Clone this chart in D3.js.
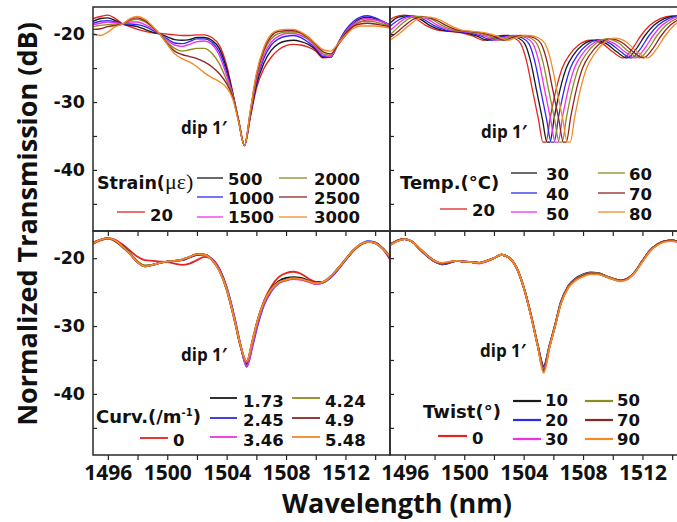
<!DOCTYPE html>
<html>
<head>
<meta charset="utf-8">
<script src="https://cdn.jsdelivr.net/npm/d3@7"></script>
<style>
  body { margin: 0; background: #fff; }
  svg { display: block; }
</style>
</head>
<body>
<svg id="chart" width="677" height="522"></svg>
<script>
// ---- data (wavelength in nm, transmission in dB) ----

// strain panel, one wavelength grid shared by its seven traces
const strainWl = [1495, 1495.5, 1496, 1496.5, 1497, 1497.5, 1498, 1498.5, 1499, 1499.5, 1500, 1500.5, 1501, 1501.5,
  1502, 1502.5, 1503, 1503.5, 1504, 1504.4, 1504.8, 1505.2, 1505.6, 1506, 1506.5, 1507, 1507.5, 1508, 1508.5,
  1509, 1509.5, 1510, 1510.5, 1511, 1511.5, 1512, 1512.5, 1513, 1513.5, 1514, 1514.5, 1515];
const strain20 = [-17.7, -17.4, -17.2, -17.7, -18.5, -18.9, -19.3, -19.6, -19.8, -19.9, -20.0, -20.1, -20.2, -20.2,
  -20.1, -20.1, -20.5, -21.6, -24.6, -28.5, -32.7, -36.4, -32.2, -28.0, -25.1, -23.4, -22.3, -21.7, -21.5,
  -21.6, -21.9, -22.5, -23.5, -23.3, -21.6, -20.2, -18.9, -18.2, -17.9, -17.9, -18.2, -18.7];
const strain500 = [-18.1, -17.7, -17.6, -18.0, -18.5, -18.7, -18.9, -19.3, -19.7, -20.0, -20.4, -20.8, -20.9, -20.8,
  -20.5, -20.5, -20.9, -22.1, -25.1, -28.7, -32.7, -36.4, -32.0, -27.5, -24.3, -22.4, -21.4, -21.0, -20.9,
  -21.1, -21.5, -22.3, -23.4, -23.4, -21.4, -19.7, -18.5, -17.7, -17.5, -17.7, -18.2, -18.7];
const strain1000 = [-18.4, -18.1, -18.0, -18.2, -18.5, -18.5, -18.6, -18.9, -19.4, -20.0, -20.7, -21.3, -21.4, -21.1,
  -20.7, -20.7, -21.2, -22.6, -25.6, -28.8, -32.7, -36.4, -31.7, -27.0, -23.6, -21.6, -20.7, -20.3, -20.2,
  -20.5, -21.2, -22.1, -23.3, -23.4, -21.3, -19.4, -18.2, -17.5, -17.3, -17.6, -18.1, -18.6];
const strain1500 = [-18.6, -18.4, -18.2, -18.3, -18.5, -18.2, -18.2, -18.6, -19.2, -20.0, -20.9, -21.6, -21.8, -21.5,
  -21.1, -21.0, -21.5, -23.1, -26.1, -28.9, -32.7, -36.4, -31.6, -26.7, -23.1, -21.2, -20.3, -19.9, -19.9,
  -20.2, -20.8, -21.9, -23.1, -23.3, -21.4, -19.7, -18.6, -17.9, -17.7, -17.9, -18.2, -18.7];
const strain2000 = [-18.9, -18.7, -18.6, -18.5, -18.5, -18.0, -17.8, -18.2, -19.0, -20.0, -21.2, -22.1, -22.5, -22.3,
  -22.1, -22.1, -22.8, -24.3, -26.8, -29.0, -32.7, -36.4, -31.5, -26.3, -22.6, -20.7, -19.9, -19.7, -19.7,
  -19.9, -20.7, -21.6, -22.9, -23.1, -21.5, -19.8, -18.8, -18.2, -18.1, -18.2, -18.5, -18.8];
const strain2500 = [-19.3, -19.2, -18.9, -18.7, -18.5, -17.8, -17.6, -18.0, -18.9, -20.0, -21.4, -22.5, -23.0, -23.3,
  -23.6, -24.1, -24.8, -25.8, -27.3, -29.2, -32.7, -36.4, -31.3, -26.1, -22.3, -20.3, -19.6, -19.5, -19.5,
  -19.8, -20.5, -21.5, -22.6, -22.9, -21.5, -19.9, -18.9, -18.5, -18.4, -18.5, -18.7, -18.9];
const strain3000 = [-19.9, -20.2, -19.7, -18.9, -18.5, -17.7, -17.4, -17.8, -18.8, -20.0, -21.5, -22.9, -23.6, -24.1,
  -24.8, -25.7, -26.4, -27.0, -27.9, -29.5, -32.9, -36.4, -31.2, -25.8, -22.0, -20.0, -19.4, -19.3, -19.3,
  -19.7, -20.4, -21.4, -22.3, -22.5, -21.4, -20.2, -19.2, -18.8, -18.8, -18.8, -18.9, -19.1];
const strainLabels = ['20', '500', '1000', '1500', '2000', '2500', '3000'];

// temperature panel, each trace read on its own wavelength points (the spectrum walks to the red)
const temp20Wl = [1493.3, 1494.0, 1494.7, 1495.3, 1496.0, 1496.7, 1497.4, 1498.2, 1499.0, 1499.8, 1500.6, 1501.3,
  1502.0, 1502.7, 1503.3, 1503.8, 1504.2, 1504.6, 1505.0, 1505.3, 1505.5, 1505.8, 1506.2, 1506.6, 1507.1, 1507.7,
  1508.5, 1509.3, 1510.0, 1510.7, 1511.3, 1511.9, 1512.5, 1513.2, 1514.0, 1514.8];
const temp30Wl = [1493.57, 1494.27, 1494.97, 1495.57, 1496.27, 1496.97, 1497.67, 1498.47, 1499.27, 1500.07, 1500.87,
  1501.57, 1502.27, 1502.97, 1503.57, 1504.07, 1504.47, 1504.87, 1505.27, 1505.57, 1505.77, 1506.07, 1506.47,
  1506.87, 1507.37, 1507.97, 1508.77, 1509.57, 1510.27, 1510.97, 1511.57, 1512.17, 1512.77, 1513.47, 1514.27, 1515.07];
const temp40Wl = [1493.85, 1494.55, 1495.25, 1495.85, 1496.55, 1497.25, 1497.95, 1498.75, 1499.55, 1500.35, 1501.15,
  1501.85, 1502.55, 1503.25, 1503.85, 1504.35, 1504.75, 1505.15, 1505.55, 1505.85, 1506.05, 1506.35, 1506.75,
  1507.15, 1507.65, 1508.25, 1509.05, 1509.85, 1510.55, 1511.25, 1511.85, 1512.45, 1513.05, 1513.75, 1514.55, 1515.35];
const temp50Wl = [1494.12, 1494.82, 1495.52, 1496.12, 1496.82, 1497.52, 1498.22, 1499.02, 1499.82, 1500.62, 1501.42,
  1502.12, 1502.82, 1503.52, 1504.12, 1504.62, 1505.02, 1505.42, 1505.82, 1506.12, 1506.32, 1506.62, 1507.02,
  1507.42, 1507.92, 1508.52, 1509.32, 1510.12, 1510.82, 1511.52, 1512.12, 1512.72, 1513.32, 1514.02, 1514.82, 1515.62];
const temp60Wl = [1494.39, 1495.09, 1495.79, 1496.39, 1497.09, 1497.79, 1498.49, 1499.29, 1500.09, 1500.89, 1501.69,
  1502.39, 1503.09, 1503.79, 1504.39, 1504.89, 1505.29, 1505.69, 1506.09, 1506.39, 1506.59, 1506.89, 1507.29,
  1507.69, 1508.19, 1508.79, 1509.59, 1510.39, 1511.09, 1511.79, 1512.39, 1512.99, 1513.59, 1514.29, 1515.09, 1515.89];
const temp70Wl = [1494.67, 1495.37, 1496.07, 1496.67, 1497.37, 1498.07, 1498.77, 1499.57, 1500.37, 1501.17, 1501.97,
  1502.67, 1503.37, 1504.07, 1504.67, 1505.17, 1505.57, 1505.97, 1506.37, 1506.67, 1506.87, 1507.17, 1507.57,
  1507.97, 1508.47, 1509.07, 1509.87, 1510.67, 1511.37, 1512.07, 1512.67, 1513.27, 1513.87, 1514.57, 1515.37, 1516.17];
const temp80Wl = [1494.94, 1495.64, 1496.34, 1496.94, 1497.64, 1498.34, 1499.04, 1499.84, 1500.64, 1501.44, 1502.24,
  1502.94, 1503.64, 1504.34, 1504.94, 1505.44, 1505.84, 1506.24, 1506.64, 1506.94, 1507.14, 1507.44, 1507.84,
  1508.24, 1508.74, 1509.34, 1510.14, 1510.94, 1511.64, 1512.34, 1512.94, 1513.54, 1514.14, 1514.84, 1515.64, 1516.44];
const temp20Db = [-21.0, -19.8, -18.4, -17.5, -17.2, -17.7, -18.7, -19.4, -19.6, -19.8, -20.3, -20.9, -20.4, -20.2,
  -20.5, -21.4, -24.0, -28.3, -32.6, -35.9, -35.9, -32.2, -28.0, -25.0, -23.0, -21.6, -20.9, -21.4, -22.6, -23.5,
  -22.2, -20.2, -18.7, -17.7, -17.3, -17.6];
const temp30Db = [-21.0, -19.8, -18.4, -17.5, -17.3, -17.7, -18.7, -19.4, -19.6, -19.8, -20.3, -20.9, -20.4, -20.2,
  -20.5, -21.4, -24.0, -28.3, -32.6, -35.9, -35.9, -32.2, -28.0, -25.0, -23.0, -21.6, -20.9, -21.4, -22.6, -23.5,
  -22.2, -20.2, -18.7, -17.7, -17.3, -17.6];
const temp40Db = [-21.0, -19.8, -18.4, -17.6, -17.3, -17.8, -18.7, -19.4, -19.6, -19.8, -20.3, -20.9, -20.4, -20.2,
  -20.5, -21.4, -24.0, -28.3, -32.6, -35.9, -35.9, -32.2, -28.0, -25.0, -23.0, -21.6, -20.8, -21.4, -22.6, -23.5,
  -22.2, -20.2, -18.7, -17.7, -17.3, -17.6];
const temp50Db = [-21.0, -19.8, -18.5, -17.6, -17.4, -17.8, -18.7, -19.4, -19.6, -19.8, -20.3, -20.9, -20.4, -20.2,
  -20.5, -21.4, -24.0, -28.3, -32.6, -35.9, -35.9, -32.2, -28.0, -25.0, -23.0, -21.6, -20.8, -21.4, -22.6, -23.5,
  -22.2, -20.2, -18.7, -17.7, -17.3, -17.6];
const temp60Db = [-21.0, -19.9, -18.5, -17.6, -17.4, -17.8, -18.7, -19.4, -19.6, -19.8, -20.3, -20.9, -20.4, -20.2,
  -20.5, -21.4, -24.0, -28.3, -32.6, -35.9, -35.9, -32.2, -28.0, -25.0, -23.0, -21.5, -20.7, -21.3, -22.6, -23.5,
  -22.2, -20.2, -18.7, -17.7, -17.3, -17.6];
const temp70Db = [-21.0, -19.9, -18.6, -17.7, -17.5, -17.9, -18.7, -19.4, -19.6, -19.8, -20.3, -20.9, -20.4, -20.2,
  -20.5, -21.4, -24.0, -28.3, -32.6, -35.9, -35.9, -32.2, -28.0, -25.0, -23.0, -21.5, -20.7, -21.3, -22.6, -23.5,
  -22.2, -20.2, -18.7, -17.7, -17.3, -17.6];
const temp80Db = [-21.0, -19.9, -18.6, -17.7, -17.5, -17.9, -18.7, -19.4, -19.6, -19.8, -20.3, -20.9, -20.4, -20.2,
  -20.5, -21.4, -24.0, -28.3, -32.6, -35.9, -35.9, -32.2, -28.0, -25.0, -23.0, -21.4, -20.6, -21.2, -22.6, -23.5,
  -22.2, -20.2, -18.7, -17.7, -17.3, -17.6];
const tempLabels = ['20', '30', '40', '50', '60', '70', '80'];

// curvature and twist panels share one wavelength grid
const lowerWl = [1495, 1495.5, 1496, 1496.5, 1497, 1497.5, 1498, 1498.5, 1499, 1499.5, 1500, 1500.5, 1501, 1501.5,
  1502, 1502.5, 1503, 1503.5, 1504, 1504.5, 1504.95, 1505.35, 1505.75, 1506.1, 1506.5, 1507, 1507.5, 1508, 1508.5,
  1509, 1509.5, 1510, 1510.5, 1511, 1511.5, 1512, 1512.5, 1513, 1513.5, 1514, 1514.5, 1515];
const curv0 = [-17.9, -17.4, -17.1, -17.3, -18.0, -18.9, -19.8, -20.3, -20.4, -20.5, -20.6, -20.8, -21.0, -20.8,
  -20.3, -19.8, -20.1, -21.5, -24.3, -28.6, -33.0, -35.6, -32.4, -29.3, -26.4, -24.2, -22.8, -22.2, -22.0,
  -22.3, -23.0, -23.5, -23.5, -22.8, -21.6, -20.3, -19.0, -18.1, -17.6, -17.7, -18.6, -20.2];
const curv173 = [-17.8, -17.3, -17.1, -17.4, -18.2, -19.3, -20.5, -21.1, -21.0, -20.7, -20.5, -20.4, -20.3, -19.9,
  -19.5, -19.5, -20.2, -21.7, -24.5, -28.7, -33.1, -35.6, -32.3, -29.1, -26.5, -24.5, -23.4, -22.9, -22.8,
  -22.9, -23.3, -23.6, -23.5, -22.7, -21.5, -20.2, -18.9, -18.0, -17.6, -17.7, -18.5, -19.8];
const curv245 = [-17.8, -17.3, -17.1, -17.4, -18.3, -19.4, -20.6, -21.2, -21.0, -20.7, -20.5, -20.4, -20.3, -19.9,
  -19.5, -19.5, -20.1, -21.6, -24.3, -28.4, -32.9, -36.0, -32.9, -29.8, -27.0, -24.9, -23.7, -23.2, -23.0,
  -23.1, -23.4, -23.8, -23.6, -22.9, -21.7, -20.3, -19.0, -18.0, -17.5, -17.7, -18.6, -19.9];
const curv346 = [-17.8, -17.3, -17.1, -17.4, -18.3, -19.4, -20.6, -21.2, -21.0, -20.7, -20.5, -20.4, -20.2, -19.8,
  -19.4, -19.5, -20.2, -21.7, -24.5, -28.6, -33.0, -35.9, -32.6, -29.5, -26.8, -24.8, -23.7, -23.3, -23.1,
  -23.2, -23.5, -23.8, -23.6, -22.8, -21.6, -20.2, -18.9, -18.0, -17.6, -17.8, -18.6, -19.8];
const curv424 = [-17.7, -17.3, -17.1, -17.5, -18.4, -19.3, -20.5, -21.1, -21.0, -20.7, -20.5, -20.4, -20.2, -19.8,
  -19.4, -19.5, -20.2, -21.8, -24.6, -28.8, -33.0, -35.3, -32.1, -29.1, -26.6, -24.7, -23.6, -23.2, -23.0,
  -23.1, -23.4, -23.7, -23.5, -22.7, -21.5, -20.2, -18.9, -18.0, -17.6, -17.8, -18.6, -19.7];
const curv490 = [-17.7, -17.3, -17.1, -17.5, -18.4, -19.4, -20.6, -21.2, -21.0, -20.7, -20.5, -20.4, -20.2, -19.8,
  -19.4, -19.5, -20.2, -21.8, -24.7, -28.9, -33.1, -35.2, -32.0, -29.0, -26.5, -24.6, -23.6, -23.2, -23.0,
  -23.1, -23.4, -23.7, -23.5, -22.7, -21.5, -20.2, -18.9, -18.0, -17.6, -17.8, -18.6, -19.8];
const curv548 = [-17.8, -17.3, -17.1, -17.4, -18.3, -19.4, -20.6, -21.2, -21.0, -20.7, -20.5, -20.4, -20.2, -19.8,
  -19.4, -19.5, -20.2, -21.8, -24.6, -28.8, -33.0, -35.2, -32.0, -29.0, -26.5, -24.6, -23.6, -23.2, -23.0,
  -23.1, -23.4, -23.7, -23.5, -22.7, -21.5, -20.2, -18.9, -18.0, -17.6, -17.8, -18.6, -19.8];
const curvLabels = ['0', '1.73', '2.45', '3.46', '4.24', '4.9', '5.48'];

const twist0 = [-18.0, -17.4, -17.2, -17.6, -18.6, -19.6, -20.4, -20.8, -20.6, -20.4, -20.5, -20.6, -20.7, -20.4,
  -20.0, -19.5, -19.9, -21.3, -24.3, -28.5, -32.9, -36.3, -32.9, -30.1, -26.6, -24.2, -23.1, -22.5, -22.2,
  -22.2, -22.6, -23.0, -23.3, -23.0, -22.0, -20.4, -18.9, -18.0, -17.5, -17.4, -17.7, -18.3];
const twist10 = [-18.0, -17.4, -17.2, -17.6, -18.7, -19.7, -20.5, -20.9, -20.7, -20.4, -20.5, -20.6, -20.7, -20.4,
  -20.0, -19.5, -19.9, -21.3, -24.2, -28.4, -32.8, -35.9, -32.8, -30.0, -26.5, -24.1, -23.0, -22.4, -22.1,
  -22.2, -22.6, -23.0, -23.3, -23.0, -22.0, -20.4, -18.9, -18.0, -17.5, -17.4, -17.7, -18.3];
const twist20 = [-18.1, -17.5, -17.2, -17.6, -18.7, -19.7, -20.5, -20.9, -20.7, -20.4, -20.5, -20.6, -20.7, -20.4,
  -20.0, -19.5, -19.9, -21.3, -24.3, -28.5, -32.9, -36.0, -32.8, -30.0, -26.5, -24.2, -23.1, -22.5, -22.2,
  -22.2, -22.6, -23.0, -23.3, -23.0, -22.0, -20.4, -18.9, -18.0, -17.5, -17.4, -17.7, -18.3];
const twist30 = [-18.0, -17.4, -17.2, -17.6, -18.6, -19.6, -20.4, -20.8, -20.6, -20.4, -20.5, -20.6, -20.8, -20.5,
  -20.0, -19.5, -19.9, -21.3, -24.3, -28.5, -32.9, -36.3, -32.9, -30.1, -26.6, -24.2, -23.1, -22.5, -22.2,
  -22.3, -22.7, -23.1, -23.4, -23.1, -22.1, -20.5, -19.0, -18.0, -17.5, -17.4, -17.7, -18.3];
const twist50 = [-18.0, -17.4, -17.2, -17.6, -18.6, -19.6, -20.4, -20.8, -20.6, -20.4, -20.5, -20.6, -20.7, -20.4,
  -20.0, -19.5, -19.9, -21.3, -24.3, -28.5, -32.9, -36.5, -32.9, -30.1, -26.6, -24.2, -23.1, -22.5, -22.2,
  -22.2, -22.6, -23.0, -23.3, -23.0, -22.0, -20.4, -18.9, -18.0, -17.5, -17.4, -17.7, -18.3];
const twist70 = [-18.0, -17.4, -17.2, -17.6, -18.6, -19.6, -20.4, -20.8, -20.6, -20.4, -20.5, -20.6, -20.7, -20.4,
  -20.0, -19.5, -19.9, -21.3, -24.3, -28.5, -32.9, -36.6, -33.0, -30.1, -26.7, -24.3, -23.2, -22.6, -22.3,
  -22.3, -22.7, -23.1, -23.3, -23.0, -22.0, -20.4, -18.9, -18.0, -17.5, -17.4, -17.7, -18.3];
const twist90 = [-18.1, -17.5, -17.2, -17.6, -18.6, -19.6, -20.4, -20.7, -20.5, -20.4, -20.5, -20.6, -20.7, -20.4,
  -20.0, -19.5, -19.9, -21.3, -24.3, -28.6, -33.0, -36.9, -33.1, -30.2, -26.8, -24.4, -23.3, -22.7, -22.4,
  -22.4, -22.7, -23.1, -23.4, -23.1, -22.1, -20.5, -19.0, -18.1, -17.6, -17.5, -17.8, -18.4];
const twistLabels = ['0', '10', '20', '30', '50', '70', '90'];

const xTicks = [1496, 1498, 1500, 1502, 1504, 1506, 1508, 1510, 1512, 1514];
const xTickLabels = [1496, 1500, 1504, 1508, 1512];
const yTicks = [-20, -25, -30, -35, -40, -45];
const yTickLabels = [-20, -30, -40];

// ---- layout ----
const seriesColors = ['#e32420', '#1a1a1a', '#2b2bf0', '#ee30ee', '#8c8c22', '#8e2424', '#f28a26'];
const SANS = "'Open Sans', 'Liberation Sans', sans-serif";
const WIDE = "'DejaVu Sans', 'Liberation Sans', sans-serif";
const SERIF = "'Liberation Serif', 'DejaVu Serif', serif";
const PW = 297, PH = 224;

const panels = [
  {
    left: 93, top: 7, xLabels: false, yLabels: true, width: 1.4,
    series: [strain20, strain500, strain1000, strain1500, strain2000, strain2500, strain3000]
      .map((db) => ({wl: strainWl, db})),
    labels: strainLabels, dip: [181, 134],
    title: {x: 97, y: 189, parts: [['Strain(', WIDE, 'bold', 17.5], ['\u03bc\u03b5)', SERIF, 'normal', 22]]},
    first: {x1: 117, x2: 145, y: 212, tx: 150, ty: 221},
    cols: [{x1: 197, x2: 223, tx: 228}, {x1: 279, x2: 307, tx: 314}],
    rows: [178, 197, 217], textRows: [185, 204, 223], legendWidth: 1.3,
  },
  {
    left: 390, top: 7, xLabels: false, yLabels: false, width: 1.3,
    series: [[temp20Wl, temp20Db], [temp30Wl, temp30Db], [temp40Wl, temp40Db], [temp50Wl, temp50Db],
      [temp60Wl, temp60Db], [temp70Wl, temp70Db], [temp80Wl, temp80Db]].map(([wl, db]) => ({wl, db})),
    labels: tempLabels, dip: [481, 138],
    title: {x: 400, y: 189, parts: [['Temp.(\u00b0C)', WIDE, 'bold', 18]]},
    first: {x1: 440, x2: 467, y: 209, tx: 472, ty: 216},
    cols: [{x1: 511, x2: 537, tx: 546}, {x1: 598, x2: 625, tx: 629}],
    rows: [173, 193, 212], textRows: [180, 200, 220], legendWidth: 1.3,
  },
  {
    left: 93, top: 231, xLabels: true, yLabels: true, width: 1.8,
    series: [curv0, curv173, curv245, curv346, curv424, curv490, curv548].map((db) => ({wl: lowerWl, db})),
    labels: curvLabels, dip: [181, 361],
    title: {x: 96, y: 423, parts: [['Curv.(/m', WIDE, 'bold', 18], ['-1', WIDE, 'bold', 10, -7], [')', WIDE, 'bold', 18, 0]]},
    first: {x1: 140, x2: 168, y: 438, tx: 173, ty: 446},
    cols: [{x1: 210, x2: 237, tx: 243}, {x1: 292, x2: 320, tx: 325}],
    rows: [398, 418, 437], textRows: [407, 426, 446], legendWidth: 1.8,
  },
  {
    left: 390, top: 231, xLabels: true, yLabels: false, width: 1.8,
    series: [twist0, twist10, twist20, twist30, twist50, twist70, twist90].map((db) => ({wl: lowerWl, db})),
    labels: twistLabels, dip: [480, 357],
    title: {x: 423, y: 418, parts: [['Twist(\u00b0)', WIDE, 'bold', 18]]},
    first: {x1: 438, x2: 467, y: 436, tx: 472, ty: 444},
    cols: [{x1: 513, x2: 541, tx: 545}, {x1: 585, x2: 613, tx: 617}],
    rows: [401, 420, 439], textRows: [406, 426, 445], legendWidth: 2.2,
  },
];

const svg = d3.select('#chart');
svg.append('rect').attr('width', 677).attr('height', 522).attr('fill', '#fff');

const defs = svg.append('defs');

panels.forEach((p, i) => {
  const x = d3.scaleLinear().domain([1495, 1515]).range([p.left, p.left + PW]);
  const y = d3.scaleLinear().domain([-49, -16]).range([p.top + PH, p.top]);

  defs.append('clipPath').attr('id', 'clip' + i)
    .append('rect')
    .attr('x', p.left).attr('y', p.top)
    .attr('width', PW).attr('height', PH);

  const line = d3.line()
    .x((d) => x(d[0]))
    .y((d) => y(d[1]))
    .curve(d3.curveMonotoneX);

  svg.append('g')
    .attr('clip-path', `url(#clip${i})`)
    .selectAll('path')
    .data(p.series)
    .join('path')
    .attr('fill', 'none')
    .attr('stroke', (d, k) => seriesColors[k])
    .attr('stroke-width', p.width)
    .attr('stroke-linejoin', 'round')
    .attr('d', (d) => line(d3.zip(d.wl, d.db)));

  // bottom axis, ticks pointing out
  const gx = svg.append('g')
    .attr('transform', `translate(0,${p.top + PH})`)
    .call(d3.axisBottom(x)
      .tickValues(xTicks)
      .tickSizeInner(5).tickSizeOuter(0).tickPadding(5)
      .tickFormat((d) => p.xLabels && xTickLabels.includes(d) ? d : ''));
  gx.select('.domain').remove();
  gx.selectAll('line').attr('stroke', '#222').attr('stroke-width', 1.2);
  gx.selectAll('text')
    .attr('font-family', SANS).attr('font-weight', 'bold').attr('font-size', 21)
    .attr('fill', '#111');

  // left axis, ticks pointing in
  const gy = svg.append('g')
    .attr('transform', `translate(${p.left},0)`)
    .call(d3.axisLeft(y)
      .tickValues(yTicks)
      .tickSizeInner(-4).tickSizeOuter(0).tickPadding(8)
      .tickFormat((d) => p.yLabels && yTickLabels.includes(d) ? String(d) : ''));
  gy.select('.domain').remove();
  gy.selectAll('line').attr('stroke', '#222').attr('stroke-width', 1.2);
  gy.selectAll('text')
    .attr('font-family', WIDE).attr('font-weight', 'bold').attr('font-size', 17.5)
    .attr('fill', '#111');

  // frame
  svg.append('rect')
    .attr('x', p.left).attr('y', p.top)
    .attr('width', PW).attr('height', PH)
    .attr('fill', 'none').attr('stroke', '#2a2a2a').attr('stroke-width', 1.5);

  // dip label
  svg.append('text')
    .attr('x', p.dip[0]).attr('y', p.dip[1])
    .attr('font-family', SANS).attr('font-weight', 'bold').attr('font-size', 17)
    .attr('fill', '#111')
    .text('dip 1\u2032');

  // legend title
  const title = svg.append('text')
    .attr('x', p.title.x).attr('y', p.title.y)
    .attr('fill', '#111');
  p.title.parts.forEach(([t, fam, wt, size, shift]) => {
    const ts = title.append('tspan')
      .attr('font-family', fam).attr('font-weight', wt).attr('font-size', size)
      .text(t);
    if (shift !== undefined) ts.attr('dy', shift === 0 ? 7 : shift);
  });

  // legend entries: first one alone, the rest in two columns of three
  const entries = p.labels.map((label, k) => {
    if (k === 0) return {label, k, ...p.first};
    const c = p.cols[Math.floor((k - 1) / 3)];
    const r = (k - 1) % 3;
    return {label, k, x1: c.x1, x2: c.x2, tx: c.tx, y: p.rows[r], ty: p.textRows[r]};
  });
  const lg = svg.append('g');
  lg.selectAll('line')
    .data(entries)
    .join('line')
    .attr('x1', (d) => d.x1).attr('x2', (d) => d.x2)
    .attr('y1', (d) => d.y).attr('y2', (d) => d.y)
    .attr('stroke', (d) => seriesColors[d.k])
    .attr('stroke-width', p.legendWidth);
  lg.selectAll('text')
    .data(entries)
    .join('text')
    .attr('x', (d) => d.tx).attr('y', (d) => d.ty)
    .attr('font-family', WIDE).attr('font-weight', 'bold').attr('font-size', 16.5)
    .attr('fill', '#111')
    .text((d) => d.label);
});

// axis titles
svg.append('text')
  .attr('transform', 'translate(37,224) rotate(-90)')
  .attr('text-anchor', 'middle')
  .attr('font-family', SANS).attr('font-weight', 'bold').attr('font-size', 27)
  .attr('fill', '#111')
  .text('Normalized Transmission (dB)');

svg.append('text')
  .attr('x', 397).attr('y', 513)
  .attr('text-anchor', 'middle')
  .attr('font-family', SANS).attr('font-weight', 'bold').attr('font-size', 27)
  .attr('fill', '#111')
  .text('Wavelength (nm)');
</script>
</body>
</html>
